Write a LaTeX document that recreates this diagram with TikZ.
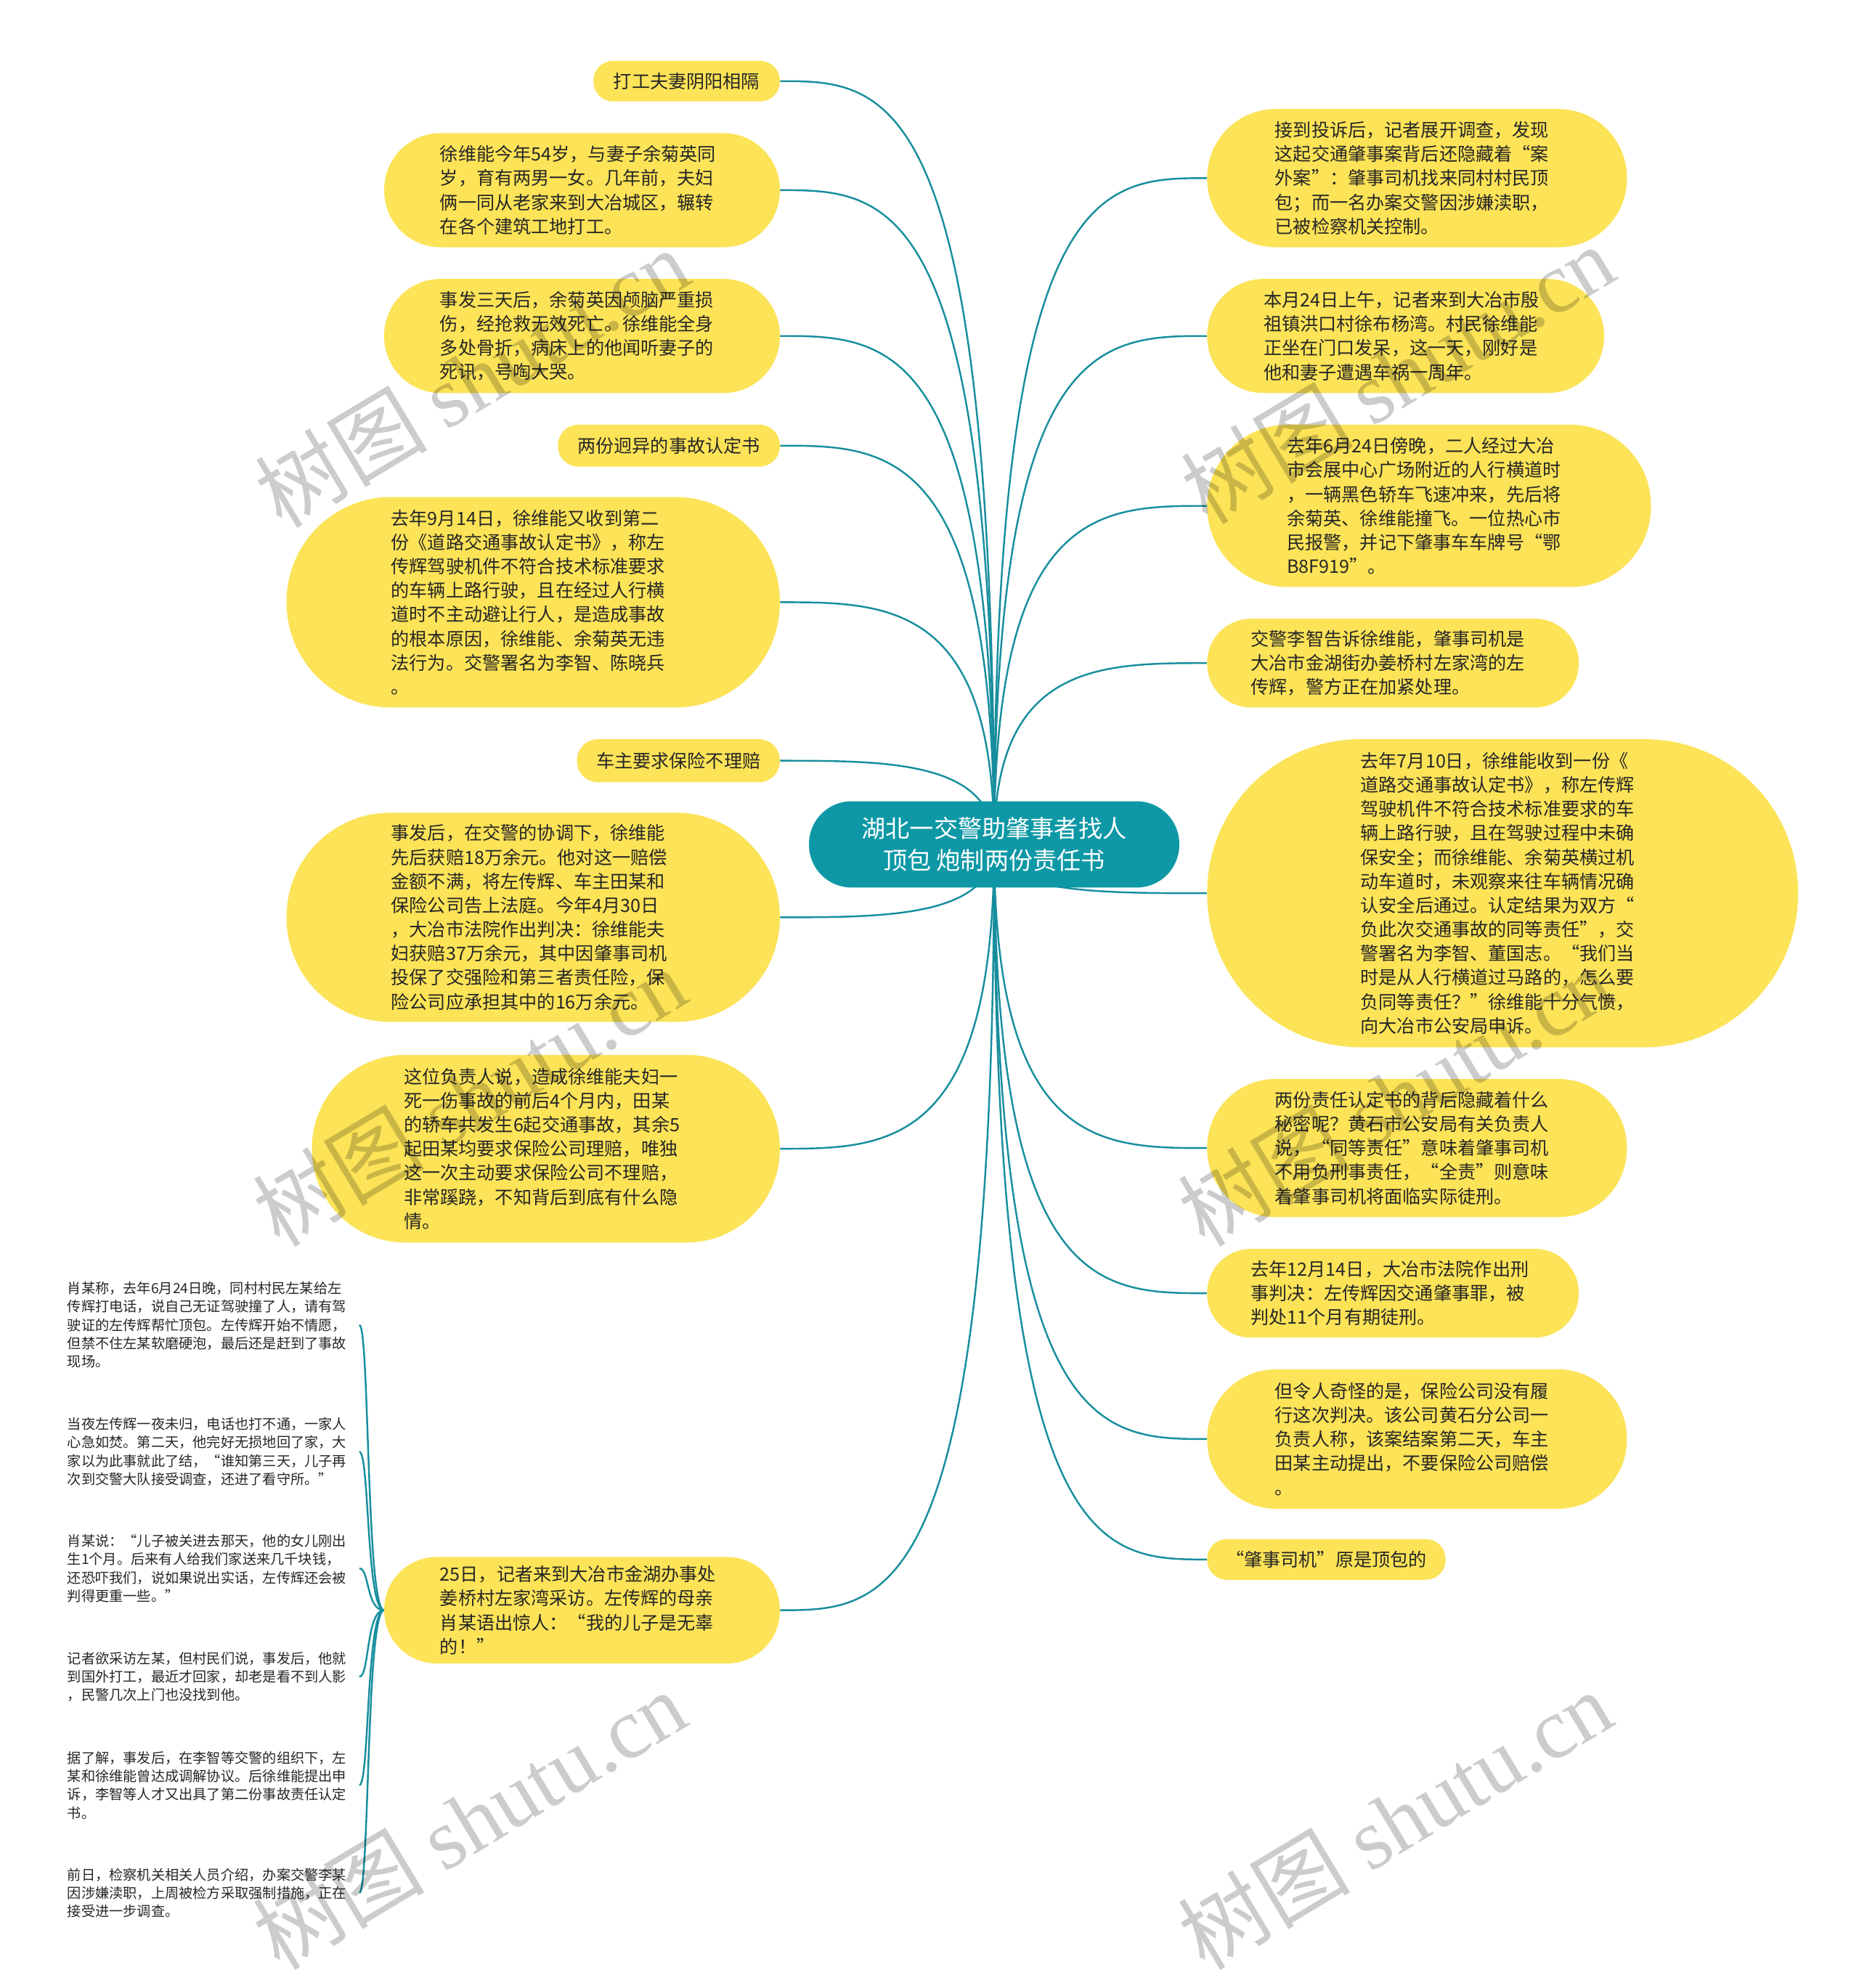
\documentclass[tikz,border=0pt]{standalone}
\usepackage{fontspec}
\setmainfont{Noto Sans CJK SC}
\newfontfamily\wmfont{Liberation Serif}
\usetikzlibrary{calc, backgrounds}
\definecolor{leafyellow}{HTML}{FCE357}
\definecolor{hubteal}{HTML}{0E98A6}
\definecolor{linkteal}{HTML}{178E9E}
\definecolor{inkgray}{HTML}{262626}
\tikzset{
    hub/.style={fill=hubteal, text=white, font=\fontsize{19}{25}\selectfont, align=center,
        inner sep=0pt, minimum width=292, minimum height=68, rounded corners=33.5},
    leaf/.style 2 args={fill=leafyellow, text=inkgray, font=\fontsize{14.4}{19}\selectfont,
        inner sep=0pt, minimum width=#1, minimum height=#2, rounded corners=#2/2-0.5},
    para/.style={text width=224pt, align=left},
    note/.style={text=inkgray, font=\fontsize{11}{14.5}\selectfont, inner sep=0pt,
        text width=230pt, align=left, anchor=west},
    link/.style={draw=linkteal, line width=1.4pt},
    watermark/.style={rotate=31, text=black, opacity=0.2, font=\fontsize{68}{68}\selectfont},
    common settings/.style={x=1pt, y=-1pt}
}

\begin{document}
\begin{tikzpicture}[common settings]
    \useasboundingbox (0,0) rectangle (1466,1568);

    % Central topic
    \node[hub] (hub) at (784,666) {湖北一交警助肇事者找人\\顶包 炮制两份责任书};

    % Left branches
    \node[leaf={147}{32}] (l1) at (541.5,64) {打工夫妻阴阳相隔};
    \node[leaf={312}{90}, para] (l2) at (459,150) {徐维能今年54岁，与妻子余菊英同\\岁，育有两男一女。几年前，夫妇\\俩一同从老家来到大冶城区，辗转\\在各个建筑工地打工。};
    \node[leaf={312}{90}, para] (l3) at (459,265) {事发三天后，余菊英因颅脑严重损\\伤，经抢救无效死亡。徐维能全身\\多处骨折，病床上的他闻听妻子的\\死讯，号啕大哭。};
    \node[leaf={175}{33}] (l4) at (527.5,351.5) {两份迥异的事故认定书};
    \node[leaf={389}{166}, para] (l5) at (420.5,475) {去年9月14日，徐维能又收到第二\\份《道路交通事故认定书》，称左\\传辉驾驶机件不符合技术标准要求\\的车辆上路行驶，且在经过人行横\\道时不主动避让行人，是造成事故\\的根本原因，徐维能、余菊英无违\\法行为。交警署名为李智、陈晓兵\\。};
    \node[leaf={160}{34}] (l6) at (535,600) {车主要求保险不理赔};
    \node[leaf={389}{165}, para] (l7) at (420.5,723.5) {事发后，在交警的协调下，徐维能\\先后获赔18万余元。他对这一赔偿\\金额不满，将左传辉、车主田某和\\保险公司告上法庭。今年4月30日\\，大冶市法院作出判决：徐维能夫\\妇获赔37万余元，其中因肇事司机\\投保了交强险和第三者责任险，保\\险公司应承担其中的16万余元。};
    \node[leaf={369}{148}, para] (l8) at (430.5,906) {这位负责人说，造成徐维能夫妇一\\死一伤事故的前后4个月内，田某\\的轿车共发生6起交通事故，其余5\\起田某均要求保险公司理赔，唯独\\这一次主动要求保险公司不理赔，\\非常蹊跷，不知背后到底有什么隐\\情。};
    \node[leaf={312}{84}, para] (l9) at (459,1270) {25日，记者来到大冶市金湖办事处\\姜桥村左家湾采访。左传辉的母亲\\肖某语出惊人：“我的儿子是无辜\\的！”};

    % Right branches
    \node[leaf={331}{109}, para] (r1) at (1117.5,140.5) {接到投诉后，记者展开调查，发现\\这起交通肇事案背后还隐藏着“案\\外案”：肇事司机找来同村村民顶\\包；而一名办案交警因涉嫌渎职，\\已被检察机关控制。};
    \node[leaf={313}{90}, para] (r2) at (1108.5,265) {本月24日上午，记者来到大冶市殷\\祖镇洪口村徐布杨湾。村民徐维能\\正坐在门口发呆，这一天，刚好是\\他和妻子遭遇车祸一周年。};
    \node[leaf={350}{128}, para] (r3) at (1127,399) {去年6月24日傍晚，二人经过大冶\\市会展中心广场附近的人行横道时\\，一辆黑色轿车飞速冲来，先后将\\余菊英、徐维能撞飞。一位热心市\\民报警，并记下肇事车车牌号“鄂\\B8F919”。};
    \node[leaf={293}{70}, para] (r4) at (1098.5,523) {交警李智告诉徐维能，肇事司机是\\大冶市金湖街办姜桥村左家湾的左\\传辉，警方正在加紧处理。};
    \node[leaf={466}{243}, para] (r5) at (1185,704.5) {去年7月10日，徐维能收到一份《\\道路交通事故认定书》，称左传辉\\驾驶机件不符合技术标准要求的车\\辆上路行驶，且在驾驶过程中未确\\保安全；而徐维能、余菊英横过机\\动车道时，未观察来往车辆情况确\\认安全后通过。认定结果为双方“\\负此次交通事故的同等责任”，交\\警署名为李智、董国志。“我们当\\时是从人行横道过马路的，怎么要\\负同等责任？”徐维能十分气愤，\\向大冶市公安局申诉。};
    \node[leaf={331}{109}, para] (r6) at (1117.5,905.5) {两份责任认定书的背后隐藏着什么\\秘密呢？黄石市公安局有关负责人\\说，“同等责任”意味着肇事司机\\不用负刑事责任，“全责”则意味\\着肇事司机将面临实际徒刑。};
    \node[leaf={293}{70}, para] (r7) at (1098.5,1020) {去年12月14日，大冶市法院作出刑\\事判决：左传辉因交通肇事罪，被\\判处11个月有期徒刑。};
    \node[leaf={331}{110}, para] (r8) at (1117.5,1135) {但令人奇怪的是，保险公司没有履\\行这次判决。该公司黄石分公司一\\负责人称，该案结案第二天，车主\\田某主动提出，不要保险公司赔偿\\。};
    \node[leaf={188}{32}] (r9) at (1046,1230) {“肇事司机”原是顶包的};

    % Notes under the visit on the 25th
    \node[note] (s1) at (53,1045) {肖某称，去年6月24日晚，同村村民左某给左\\传辉打电话，说自己无证驾驶撞了人，请有驾\\驶证的左传辉帮忙顶包。左传辉开始不情愿，\\但禁不住左某软磨硬泡，最后还是赶到了事故\\现场。};
    \node[note] (s2) at (53,1145) {当夜左传辉一夜未归，电话也打不通，一家人\\心急如焚。第二天，他完好无损地回了家，大\\家以为此事就此了结，“谁知第三天，儿子再\\次到交警大队接受调查，还进了看守所。”};
    \node[note] (s3) at (53,1237) {肖某说：“儿子被关进去那天，他的女儿刚出\\生1个月。后来有人给我们家送来几千块钱，\\还恐吓我们，说如果说出实话，左传辉还会被\\判得更重一些。”};
    \node[note] (s4) at (53,1322.5) {记者欲采访左某，但村民们说，事发后，他就\\到国外打工，最近才回家，却老是看不到人影\\，民警几次上门也没找到他。};
    \node[note] (s5) at (53,1408) {据了解，事发后，在李智等交警的组织下，左\\某和徐维能曾达成调解协议。后徐维能提出申\\诉，李智等人才又出具了第二份事故责任认定\\书。};
    \node[note] (s6) at (53,1493) {前日，检察机关相关人员介绍，办案交警李某\\因涉嫌渎职，上周被检方采取强制措施，正在\\接受进一步调查。};

    % Connectors
    \begin{scope}[on background layer]
        \fill[white] (0,0) rectangle (1466,1568);
        \foreach \n in {l1,l2,l3,l4,l5,l6,l7,l8,l9}
            \draw[link] (hub.center) .. controls (hub.center |- \n.east) and ($(hub.center |- \n.east)!0.5!(\n.east)$) .. (\n.east);
        \foreach \n in {r1,r2,r3,r4,r5,r6,r7,r8,r9}
            \draw[link] (hub.center) .. controls (hub.center |- \n.west) and ($(hub.center |- \n.west)!0.5!(\n.west)$) .. (\n.west);
        \foreach \n in {s1,s2,s3,s4,s5,s6}
            \draw[link] (l9.west) .. controls +(-14,0) and +(8,0) .. (\n.east);
    \end{scope}

    % Watermarks
    \foreach \wx/\wy [count=\i] in {372/298, 1102/295, 370/865, 1100/865, 370/1435, 1100/1435}
        \node[watermark] (wm\i) at (\wx,\wy) {树图 {\wmfont shutu.cn}};

\end{tikzpicture}
\end{document}
